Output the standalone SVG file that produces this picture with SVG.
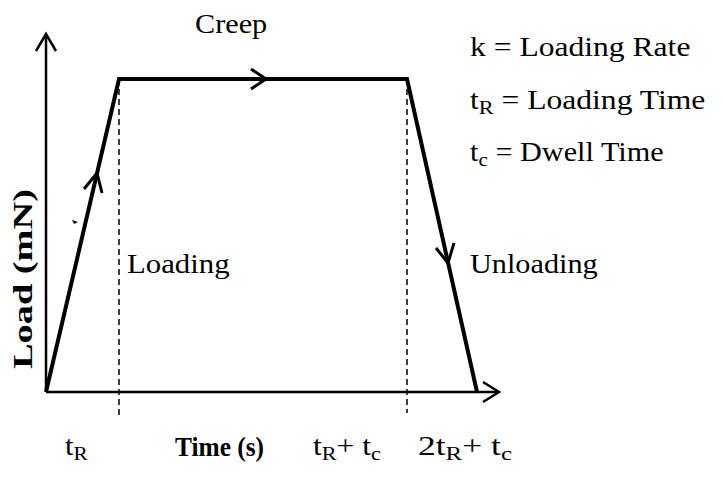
<svg xmlns="http://www.w3.org/2000/svg" width="723" height="482" viewBox="0 0 723 482">
  <style>
    .axis { stroke: #000; stroke-width: 2.5; fill: none; }
    .curve { stroke: #000; stroke-width: 4; fill: none; stroke-linejoin: miter; }
    .guide { stroke: #000; stroke-width: 1.5; stroke-dasharray: 6 4; fill: none; }
    .chev { stroke: #000; stroke-width: 3; fill: none; }
    .lbl { font-family: "Liberation Serif", "Times New Roman", serif; font-size: 27px; fill: #000; }
    .bold { font-weight: bold; }
  </style>
  <rect width="723" height="482" fill="#fff"/>

  <g id="axes">
    <line class="axis" x1="46" y1="392" x2="46" y2="34"/>
    <polyline class="axis" points="36,51 46,34 56,51"/>
    <line class="axis" x1="46" y1="392" x2="499" y2="392"/>
    <polyline class="axis" points="483,382 499,392 483,402"/>
  </g>

  <g id="connectors">
    <line class="guide" x1="119" y1="79" x2="119" y2="415"/>
    <line class="guide" x1="407" y1="79" x2="407" y2="413"/>
    <polyline class="curve" points="46,392 119,79 407,79 477,392"/>
    <polyline class="chev" points="84,189 97,173 102,193"/>
    <polyline class="chev" points="251,69 266,79 251,89"/>
    <polyline class="chev" points="436,248 448,263 454,243"/>
    <path d="M72,220 L78,222 L74,224 Z" fill="#000"/>
  </g>

  <g id="phase-labels">
    <text class="lbl" transform="translate(195,33) scale(1.12,1)">Creep</text>
    <text class="lbl" transform="translate(127,273) scale(1.14,1)">Loading</text>
    <text class="lbl" transform="translate(470,273) scale(1.12,1)">Unloading</text>
  </g>

  <g id="legend">
    <text class="lbl" transform="translate(470,56) scale(1.17,1)">k = Loading Rate</text>
    <text class="lbl" transform="translate(470,109) scale(1.17,1)">t<tspan font-size="19" dy="5">R</tspan><tspan dy="-5"> = Loading Time</tspan></text>
    <text class="lbl" transform="translate(470,161) scale(1.12,1)">t<tspan font-size="19" dy="5">c</tspan><tspan dy="-5"> = Dwell Time</tspan></text>
  </g>

  <g id="axis-labels">
    <text class="lbl bold" x="0" y="0" transform="translate(32,279) rotate(-90)" text-anchor="middle" font-size="28" textLength="180" lengthAdjust="spacingAndGlyphs">Load (mN)</text>
    <text class="lbl bold" x="175" y="456" font-size="29" textLength="89" lengthAdjust="spacingAndGlyphs">Time (s)</text>
    <text class="lbl" transform="translate(65,455) scale(1.12,1)">t<tspan font-size="19" dy="5">R</tspan></text>
    <text class="lbl" x="313" y="455" textLength="68" lengthAdjust="spacingAndGlyphs">t<tspan font-size="19" dy="5">R</tspan><tspan dy="-5">+ t</tspan><tspan font-size="19" dy="5">c</tspan></text>
    <text class="lbl" x="418" y="455" textLength="94" lengthAdjust="spacingAndGlyphs">2t<tspan font-size="19" dy="5">R</tspan><tspan dy="-5">+ t</tspan><tspan font-size="19" dy="5">c</tspan></text>
  </g>
</svg>
